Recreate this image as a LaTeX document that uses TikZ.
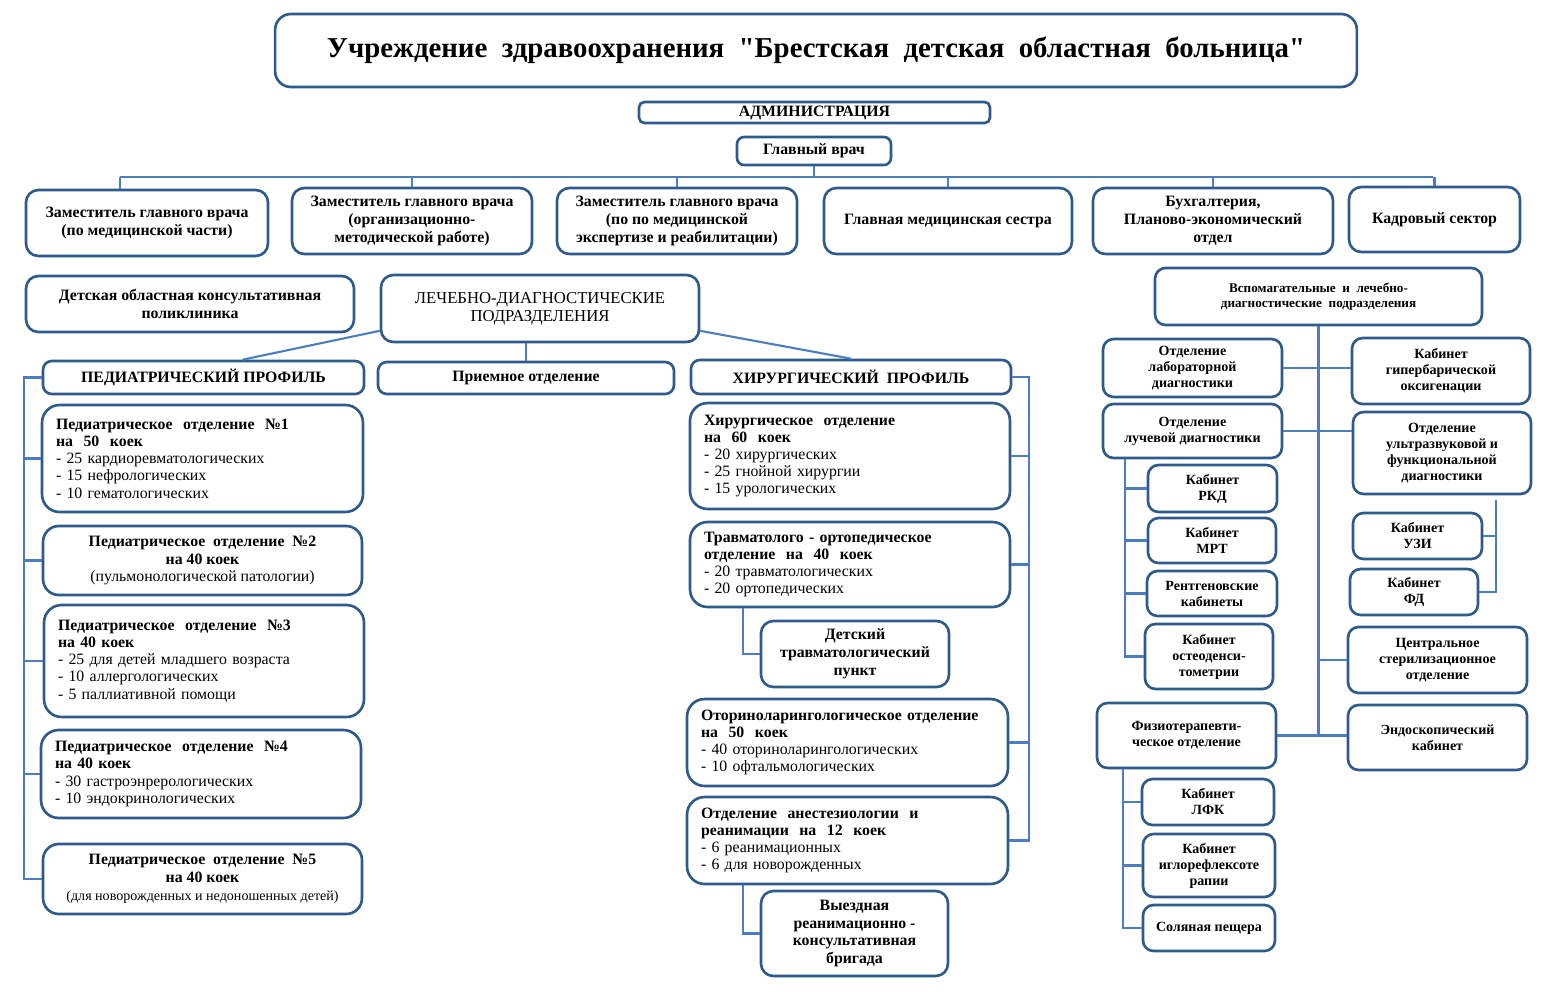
\documentclass[tikz,border=0pt]{standalone}
\usepackage{fontspec}
\setmainfont{Liberation Serif}[Ligatures=TeXOff]
\definecolor{vborder}{HTML}{2F5A8C}
\definecolor{vline}{HTML}{4A7EC0}
\tikzset{
  box/.style={draw=vborder,fill=white,rounded corners=7pt,line width=1.5pt,align=center,font=\fontsize{9}{10.2}\selectfont\bfseries,inner sep=2pt},
  lbox/.style={box,align=left,font=\fontsize{9}{9.8}\selectfont,inner xsep=0.28cm},
  sbox/.style={box,font=\fontsize{8}{9.1}\selectfont\bfseries,rounded corners=6pt},
  link/.style={draw=vline,line width=1.2pt},
}
\begin{document}
\begin{tikzpicture}[x=0.02cm,y=-0.02cm]
  \useasboundingbox (0,0) rectangle (1553,992);
  % administration
  \node[box,minimum width=21.64cm,minimum height=1.46cm,rounded corners=9pt,font=\fontsize{16.4}{19}\selectfont\bfseries] (title) at (816,50.5) {Учреждение~ здравоохранения~ "Брестская~ детская~ областная~ больница"};
  \node[box,minimum width=7.02cm,minimum height=0.42cm,rounded corners=3pt,inner sep=0pt] (admin) at (814.5,112.5) {АДМИНИСТРАЦИЯ};
  \node[box,minimum width=3.08cm,minimum height=0.56cm,rounded corners=4pt] (glav) at (814,151) {Главный врач};
  \node[box,minimum width=4.84cm,minimum height=1.32cm] (zam1) at (147,223) {Заместитель главного врача\\(по медицинской части)};
  \node[box,minimum width=4.8cm,minimum height=1.32cm] (zam2) at (412,221) {Заместитель главного врача\\(организационно-\\методической работе)};
  \node[box,minimum width=4.8cm,minimum height=1.32cm] (zam3) at (677,221) {Заместитель главного врача\\(по по медицинской\\экспертизе и реабилитации)};
  \node[box,minimum width=4.96cm,minimum height=1.32cm] (nurse) at (948,221) {Главная медицинская сестра};
  \node[box,minimum width=4.8cm,minimum height=1.32cm] (buh) at (1213,221) {Бухгалтерия,\\Планово-экономический\\отдел};
  \node[box,minimum width=3.42cm,minimum height=1.3cm] (kadr) at (1434.5,219.5) {Кадровый сектор};
  \node[box,minimum width=6.56cm,minimum height=1.12cm] (polik) at (190,304) {Детская областная консультативная\\поликлиника};
  \node[box,minimum width=6.36cm,minimum height=1.34cm,font=\fontsize{9.5}{10.5}\selectfont] (lech) at (540,308.5) {ЛЕЧЕБНО-ДИАГНОСТИЧЕСКИЕ\\ПОДРАЗДЕЛЕНИЯ};
  % pediatrics
  \node[box,minimum width=6.42cm,minimum height=0.66cm,rounded corners=5pt] (pedprof) at (203.5,377.5) {ПЕДИАТРИЧЕСКИЙ ПРОФИЛЬ};
  \node[box,minimum width=5.92cm,minimum height=0.64cm,rounded corners=5pt] (priem) at (526,378) {Приемное отделение};
  \node[box,minimum width=6.4cm,minimum height=0.68cm,rounded corners=5pt] (hirprof) at (851,377) {ХИРУРГИЧЕСКИЙ~ ПРОФИЛЬ};
  \node[lbox,text width=5.86cm,minimum height=2.14cm,rounded corners=10pt] (ped1) at (202.5,458.5) {\textbf{Педиатрическое~ отделение~ №1}\\\textbf{на~ 50~ коек}\\- 25 кардиоревматологических\\- 15 нефрологических\\- 10 гематологических};
  \node[box,minimum width=6.38cm,minimum height=1.38cm,rounded corners=9pt] (ped2) at (202.5,560.5) {Педиатрическое~ отделение~ №2\\на 40 коек\\\mdseries(пульмонологической патологии)};
  \node[lbox,text width=5.84cm,minimum height=2.24cm,rounded corners=10pt] (ped3) at (204,661) {\textbf{Педиатрическое~ отделение~ №3}\\\textbf{на 40 коек}\\- 25 для детей младшего возраста\\- 10 аллергологических\\- 5 паллиативной помощи};
  \node[lbox,text width=5.84cm,minimum height=1.76cm,rounded corners=10pt] (ped4) at (201,774) {\textbf{Педиатрическое~ отделение~ №4}\\\textbf{на 40 коек}\\- 30 гастроэнрерологических\\- 10 эндокринологических};
  \node[box,minimum width=6.38cm,minimum height=1.4cm,rounded corners=9pt] (ped5) at (202.5,879) {Педиатрическое~ отделение~ №5\\на 40 коек\\\mdseries\fontsize{8}{9.6}\selectfont(для новорожденных и недоношенных детей)};
  % surgery
  \node[lbox,text width=5.84cm,minimum height=2.12cm,rounded corners=10pt] (hir1) at (850,456) {\textbf{Хирургическое~ отделение}\\\textbf{на~ 60~ коек}\\- 20 хирургических\\- 25 гнойной хирургии\\- 15 урологических};
  \node[lbox,text width=5.84cm,minimum height=1.7cm,rounded corners=10pt] (trav) at (850,564.5) {\textbf{Травматолого - ортопедическое}\\\textbf{отделение~ на~ 40~ коек}\\- 20 травматологических\\- 20 ортопедических};
  \node[box,minimum width=3.76cm,minimum height=1.32cm] (dtp) at (855,654) {Детский\\травматологический\\пункт};
  \node[lbox,text width=5.86cm,minimum height=1.74cm,rounded corners=10pt] (lor) at (847.5,742.5) {\textbf{Оториноларингологическое отделение}\\\textbf{на~ 50~ коек}\\- 40 оториноларингологических\\- 10 офтальмологических};
  \node[lbox,text width=5.86cm,minimum height=1.74cm,rounded corners=10pt] (anest) at (847.5,840.5) {\textbf{Отделение~ анестезиологии~ и}\\\textbf{реанимации~ на~ 12~ коек}\\- 6 реанимационных\\- 6 для новорожденных};
  \node[box,minimum width=3.74cm,minimum height=1.7cm] (brig) at (854.5,933.5) {Выездная\\реанимационно -\\консультативная\\бригада};
  % auxiliary units
  \node[sbox,minimum width=6.54cm,minimum height=1.14cm,font=\fontsize{7.5}{8.8}\selectfont\bfseries] (vspom) at (1318.5,296.5) {Вспомагательные~ и~ лечебно-\\диагностические~ подразделения};
  \node[sbox,minimum width=3.58cm,minimum height=1.16cm] (lab) at (1192.5,368) {Отделение\\лабораторной\\диагностики};
  \node[sbox,minimum width=3.56cm,minimum height=1.32cm] (hyper) at (1441,371) {Кабинет\\гипербарической\\оксигенации};
  \node[sbox,minimum width=3.58cm,minimum height=1.08cm] (luch) at (1192.5,431) {Отделение\\лучевой диагностики};
  \node[sbox,minimum width=3.56cm,minimum height=1.64cm] (func) at (1442,453) {Отделение\\ультразвуковой и\\функциональной\\диагностики};
  \node[sbox,minimum width=2.58cm,minimum height=0.94cm] (rkd) at (1212.5,488.5) {Кабинет\\РКД};
  \node[sbox,minimum width=2.56cm,minimum height=0.9cm] (mrt) at (1212,540.5) {Кабинет\\МРТ};
  \node[sbox,minimum width=2.6cm,minimum height=0.9cm] (rentg) at (1212,593.5) {Рентгеновские\\кабинеты};
  \node[sbox,minimum width=2.56cm,minimum height=1.3cm] (osteo) at (1209,656.5) {Кабинет\\остеоденси-\\тометрии};
  \node[sbox,minimum width=2.58cm,minimum height=0.92cm] (uzi) at (1417.5,536) {Кабинет\\УЗИ};
  \node[sbox,minimum width=2.56cm,minimum height=0.92cm] (fd) at (1414,592) {Кабинет\\ФД};
  \node[sbox,minimum width=3.58cm,minimum height=1.32cm] (central) at (1437.5,660) {Центральное\\стерилизационное\\отделение};
  \node[sbox,minimum width=3.58cm,minimum height=1.3cm] (fizio) at (1186.5,735.5) {Физиотерапевти-\\ческое отделение};
  \node[sbox,minimum width=3.58cm,minimum height=1.3cm] (endo) at (1437.5,737.5) {Эндоскопический\\кабинет};
  \node[sbox,minimum width=2.64cm,minimum height=0.92cm] (lfk) at (1208,802) {Кабинет\\ЛФК};
  \node[sbox,minimum width=2.64cm,minimum height=1.26cm] (igl) at (1209,865.5) {Кабинет\\иглорефлексоте\\рапии};
  \node[sbox,minimum width=2.64cm,minimum height=0.92cm] (sol) at (1209,928) {Соляная пещера};
  % links
  \coordinate (busL) at (120,177);
  \coordinate (busR) at (1433,177);
  \draw[link] (busL) -- (busR);
  \draw[link] (glav.south) -- (glav.south |- busL);
  \draw[link] (busL) -- (busL |- zam1.north);
  \foreach \n in {zam2,zam3,nurse,buh,kadr} \draw[link] (\n.north) -- (\n.north |- busL);
  \draw[link] ([yshift=0.25cm]lech.south west) -- ([xshift=0.78cm]pedprof.north);
  \draw[link] (priem.north) -- (priem.north |- lech.south);
  \draw[link] ([yshift=0.25cm]lech.south east) -- (hirprof.north);
  \coordinate (pedx) at (24,0);
  \draw[link] (pedprof.west) -- (pedprof.west -| pedx) |- (ped5.west);
  \foreach \n in {ped1,ped2,ped3,ped4} \draw[link] (\n.west) -- (\n.west -| pedx);
  \coordinate (hirx) at (1029,0);
  \draw[link] (hirprof.east) -- (hirprof.east -| hirx) |- (anest.east);
  \foreach \n in {hir1,trav,lor} \draw[link] (\n.east) -- (\n.east -| hirx);
  \draw[link] ([xshift=-2.14cm]trav.south) |- (dtp.west);
  \draw[link] ([xshift=-2.09cm]anest.south) |- (brig.west);
  \draw[link] (vspom.south) -- (vspom.south |- fizio.east);
  \draw[link] (lab.east) -- (lab.east -| hyper.west);
  \draw[link] (luch.east) -- (luch.east -| func.west);
  \draw[link] (central.west) -- (central.west -| vspom.south);
  \draw[link] (fizio.east) -- (fizio.east -| endo.west);
  \coordinate (luchx) at (1125,0);
  \draw[link] (luchx |- luch.south) |- (osteo.west);
  \foreach \n in {rkd,mrt,rentg} \draw[link] (\n.west) -- (\n.west -| luchx);
  \coordinate (funcx) at (1496,500);
  \draw[link] (funcx) |- (fd.east);
  \draw[link] (uzi.east) -- (uzi.east -| funcx);
  \coordinate (fiziox) at (1123,0);
  \draw[link] (fiziox |- fizio.south) |- (sol.west);
  \foreach \n in {lfk,igl} \draw[link] (\n.west) -- (\n.west -| fiziox);
\end{tikzpicture}
\end{document}
